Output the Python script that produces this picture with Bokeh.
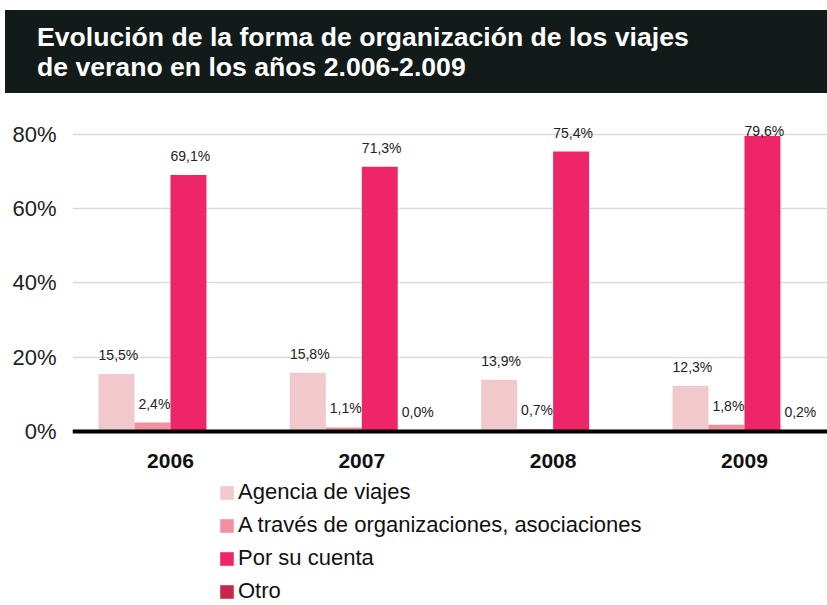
import math
from bokeh.plotting import figure
from bokeh.models import ColumnDataSource, Range1d, FixedTicker, Legend, LegendItem, Div
from bokeh.layouts import column
from bokeh.embed import file_html
from bokeh.resources import INLINE
from bokeh.core.properties import value
from bokeh.transform import dodge

# ---------------- data ----------------
years = ["2006", "2007", "2008", "2009"]
series_names = ["Agencia de viajes",
                "A través de organizaciones, asociaciones",
                "Por su cuenta",
                "Otro"]
agencia = [15.5, 15.8, 13.9, 12.3]
traves = [2.4, 1.1, 0.7, 1.8]
cuenta = [69.1, 71.3, 75.4, 79.6]
otro = [float("nan"), 0.0, float("nan"), 0.2]
y_ticks = [0, 20, 40, 60, 80]

# ---------------- style ----------------
colors = ["#f1c9cd", "#f0919f", "#ee2669", "#c8284a"]
FONT = "Liberation Sans"
BAR_W = 0.188
LABEL_CAP = 75.8  # labels are kept inside the plot area

title_html = (
    '<div style="width:822px;height:83px;margin-top:10px;margin-left:5px;background:#121a1a;color:#ffffff;'
    "font-family:'Liberation Sans',Arial,sans-serif;font-weight:bold;font-size:26.6px;"
    'line-height:30px;padding:12px 0 0 32px;box-sizing:border-box;">'
    'Evolución de la forma de organización de los viajes<br>'
    'de verano en los años 2.006-2.009</div>'
)
div = Div(text=title_html, width=827, height=93, margin=(0, 0, 0, 0))

p = figure(width=827, height=512, output_backend="svg", toolbar_location=None,
           x_range=Range1d(-0.512, 3.434), y_range=Range1d(-46.87, 87.8),
           min_border_left=72, min_border_right=0, min_border_top=12,
           min_border_bottom=0, title=None, margin=(0, 0, 0, 0))
p.outline_line_color = None
p.background_fill_color = "white"
p.border_fill_color = "white"

xs = list(range(len(years)))
all_vals = [agencia, traves, cuenta, otro]
renderers = []
for k, (vals, col) in enumerate(zip(all_vals, colors)):
    off = (k - 1.5) * BAR_W
    src = ColumnDataSource(dict(x=xs, top=vals))
    r = p.vbar(x=dodge("x", off), top="top", width=BAR_W, bottom=0, source=src,
               fill_color=col, line_color=None)
    renderers.append(r)
    lx, ly, lt = [], [], []
    for i, v in enumerate(vals):
        if v is None or (isinstance(v, float) and math.isnan(v)):
            continue
        lx.append(xs[i])
        ly.append(min(v, LABEL_CAP))
        lt.append(f"{v:.1f}".replace(".", ",") + "%")
    lsrc = ColumnDataSource(dict(x=lx, y=ly, t=lt))
    p.text(x=dodge("x", off + 0.01), y="y", text="t", source=lsrc,
           text_font=value(FONT), text_font_size="14px", text_color="#222222",
           text_align="center", text_baseline="middle", y_offset=-19)

# axes
p.xaxis.fixed_location = 0
p.xaxis.ticker = FixedTicker(ticks=xs)
p.xaxis.major_label_overrides = {i: y for i, y in enumerate(years)}
p.xaxis.major_label_text_font = FONT
p.xaxis.major_label_text_font_style = "bold"
p.xaxis.major_label_text_font_size = "21px"
p.xaxis.major_label_text_color = "#111111"
p.xaxis.major_tick_line_color = None
p.xaxis.minor_tick_line_color = None
p.xaxis.axis_line_color = "#000000"
p.xaxis.axis_line_width = 4
p.xaxis.major_label_standoff = 17

p.yaxis.ticker = FixedTicker(ticks=y_ticks)
p.yaxis.major_label_overrides = {t: f"{t}%" for t in y_ticks}
p.yaxis.major_label_text_font = FONT
p.yaxis.major_label_text_font_size = "22px"
p.yaxis.major_label_text_color = "#222222"
p.yaxis.major_tick_line_color = None
p.yaxis.minor_tick_line_color = None
p.yaxis.axis_line_color = None
p.yaxis.major_label_standoff = 10

p.xgrid.grid_line_color = None
p.ygrid.grid_line_color = "#dadada"
p.ygrid.grid_line_width = 1.5

legend = Legend(items=[LegendItem(label=n, renderers=[r]) for n, r in zip(series_names, renderers)],
                location=(146, 1), orientation="vertical")
legend.label_text_font = FONT
legend.label_text_font_size = "22px"
legend.label_text_color = "#111111"
legend.glyph_width = 17
legend.glyph_height = 17
legend.label_height = 20
legend.spacing = 7
legend.label_standoff = 3
legend.padding = 0
legend.margin = 0
legend.border_line_color = None
legend.background_fill_alpha = 0
p.add_layout(legend, "center")

layout = column(div, p, spacing=0, margin=(0, 0, 0, 0))
open("out.html", "w").write(file_html(layout, INLINE))
